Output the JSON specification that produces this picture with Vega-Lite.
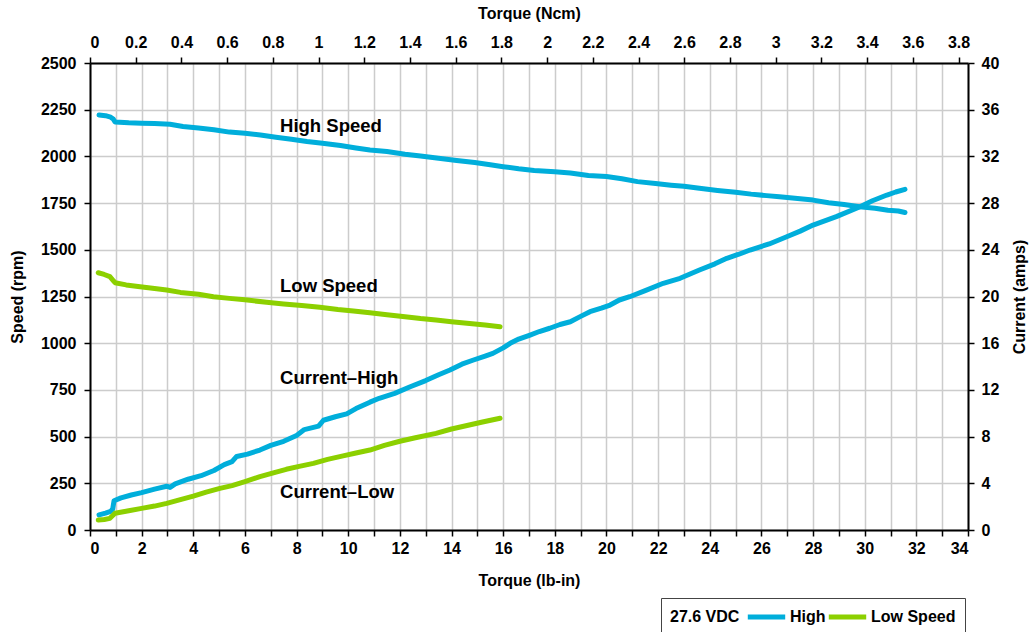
{
  "$schema": "https://vega.github.io/schema/vega-lite/v6.json",
  "width": 878,
  "height": 467,
  "autosize": {"type": "none"},
  "padding": {"left": 90, "top": 63, "right": 61, "bottom": 102},
  "background": "white",
  "config": {
    "font": "Liberation Sans",
    "view": {"stroke": null},
    "axis": {
      "labelFont": "Liberation Sans", "labelFontWeight": "bold", "labelFontSize": 16, "labelColor": "#000",
      "titleFont": "Liberation Sans", "titleFontWeight": "bold", "titleFontSize": 16, "titleColor": "#000",
      "domainColor": "#000", "domainWidth": 2, "tickColor": "#000", "tickWidth": 1.5, "tickSize": 6,
      "gridColor": "#cccccc", "gridWidth": 1.5, "labelPadding": 4
    },
    "legend": {
      "labelFont": "Liberation Sans", "titleFont": "Liberation Sans"
    }
  },
  "datasets": {
    "speed": [
      {"series": "High", "torque": 0.35, "rpm": 2222},
      {"series": "High", "torque": 0.6, "rpm": 2218},
      {"series": "High", "torque": 0.8, "rpm": 2210},
      {"series": "High", "torque": 0.9, "rpm": 2200},
      {"series": "High", "torque": 0.97, "rpm": 2184},
      {"series": "High", "torque": 1.5, "rpm": 2180},
      {"series": "High", "torque": 2.0, "rpm": 2178},
      {"series": "High", "torque": 2.5, "rpm": 2176},
      {"series": "High", "torque": 3.1, "rpm": 2172},
      {"series": "High", "torque": 3.6, "rpm": 2160},
      {"series": "High", "torque": 4.2, "rpm": 2152},
      {"series": "High", "torque": 4.8, "rpm": 2143},
      {"series": "High", "torque": 5.4, "rpm": 2130},
      {"series": "High", "torque": 6.0, "rpm": 2124},
      {"series": "High", "torque": 6.6, "rpm": 2115},
      {"series": "High", "torque": 7.2, "rpm": 2103},
      {"series": "High", "torque": 7.8, "rpm": 2092},
      {"series": "High", "torque": 8.4, "rpm": 2080},
      {"series": "High", "torque": 9.0, "rpm": 2070},
      {"series": "High", "torque": 9.7, "rpm": 2058},
      {"series": "High", "torque": 10.3, "rpm": 2045},
      {"series": "High", "torque": 10.84, "rpm": 2034},
      {"series": "High", "torque": 11.5, "rpm": 2026},
      {"series": "High", "torque": 12.2, "rpm": 2012},
      {"series": "High", "torque": 12.8, "rpm": 2002},
      {"series": "High", "torque": 13.5, "rpm": 1990},
      {"series": "High", "torque": 14.2, "rpm": 1978},
      {"series": "High", "torque": 14.9, "rpm": 1967},
      {"series": "High", "torque": 15.5, "rpm": 1955},
      {"series": "High", "torque": 16.0, "rpm": 1945},
      {"series": "High", "torque": 16.6, "rpm": 1934},
      {"series": "High", "torque": 17.2, "rpm": 1925},
      {"series": "High", "torque": 18.0, "rpm": 1918},
      {"series": "High", "torque": 18.6, "rpm": 1911},
      {"series": "High", "torque": 19.3, "rpm": 1898},
      {"series": "High", "torque": 20.0, "rpm": 1892},
      {"series": "High", "torque": 20.6, "rpm": 1880},
      {"series": "High", "torque": 21.2, "rpm": 1865},
      {"series": "High", "torque": 21.9, "rpm": 1855},
      {"series": "High", "torque": 22.5, "rpm": 1846},
      {"series": "High", "torque": 23.0, "rpm": 1840},
      {"series": "High", "torque": 23.6, "rpm": 1829},
      {"series": "High", "torque": 24.3, "rpm": 1818},
      {"series": "High", "torque": 25.0, "rpm": 1808},
      {"series": "High", "torque": 25.6, "rpm": 1798},
      {"series": "High", "torque": 26.2, "rpm": 1790},
      {"series": "High", "torque": 26.7, "rpm": 1784},
      {"series": "High", "torque": 27.3, "rpm": 1776},
      {"series": "High", "torque": 28.0, "rpm": 1766},
      {"series": "High", "torque": 28.6, "rpm": 1752},
      {"series": "High", "torque": 29.2, "rpm": 1742},
      {"series": "High", "torque": 29.8, "rpm": 1731},
      {"series": "High", "torque": 30.4, "rpm": 1722},
      {"series": "High", "torque": 30.9, "rpm": 1712},
      {"series": "High", "torque": 31.3, "rpm": 1708},
      {"series": "High", "torque": 31.56, "rpm": 1700},
      {"series": "Low Speed", "torque": 0.32, "rpm": 1377},
      {"series": "Low Speed", "torque": 0.55, "rpm": 1368},
      {"series": "Low Speed", "torque": 0.77, "rpm": 1356},
      {"series": "Low Speed", "torque": 0.9, "rpm": 1335},
      {"series": "Low Speed", "torque": 0.97, "rpm": 1324},
      {"series": "Low Speed", "torque": 1.4, "rpm": 1312},
      {"series": "Low Speed", "torque": 1.94, "rpm": 1302},
      {"series": "Low Speed", "torque": 2.5, "rpm": 1293},
      {"series": "Low Speed", "torque": 2.97, "rpm": 1285},
      {"series": "Low Speed", "torque": 3.5, "rpm": 1272},
      {"series": "Low Speed", "torque": 4.2, "rpm": 1262},
      {"series": "Low Speed", "torque": 4.78, "rpm": 1249},
      {"series": "Low Speed", "torque": 5.4, "rpm": 1240},
      {"series": "Low Speed", "torque": 6.0, "rpm": 1232},
      {"series": "Low Speed", "torque": 6.84, "rpm": 1219},
      {"series": "Low Speed", "torque": 7.5, "rpm": 1210},
      {"series": "Low Speed", "torque": 8.2, "rpm": 1202},
      {"series": "Low Speed", "torque": 8.9, "rpm": 1192},
      {"series": "Low Speed", "torque": 9.6, "rpm": 1180},
      {"series": "Low Speed", "torque": 10.2, "rpm": 1172},
      {"series": "Low Speed", "torque": 10.84, "rpm": 1163},
      {"series": "Low Speed", "torque": 11.5, "rpm": 1152},
      {"series": "Low Speed", "torque": 12.2, "rpm": 1142},
      {"series": "Low Speed", "torque": 12.8, "rpm": 1132},
      {"series": "Low Speed", "torque": 13.4, "rpm": 1124},
      {"series": "Low Speed", "torque": 14.0, "rpm": 1115},
      {"series": "Low Speed", "torque": 14.7, "rpm": 1105},
      {"series": "Low Speed", "torque": 15.3, "rpm": 1097},
      {"series": "Low Speed", "torque": 15.88, "rpm": 1088}
    ],
    "current": [
      {"series": "High", "torque": 0.35, "amps": 1.3},
      {"series": "High", "torque": 0.6, "amps": 1.45},
      {"series": "High", "torque": 0.8, "amps": 1.6},
      {"series": "High", "torque": 0.88, "amps": 1.8},
      {"series": "High", "torque": 0.93, "amps": 2.5},
      {"series": "High", "torque": 1.2, "amps": 2.75},
      {"series": "High", "torque": 1.6, "amps": 3.0},
      {"series": "High", "torque": 2.0, "amps": 3.2},
      {"series": "High", "torque": 2.5, "amps": 3.5},
      {"series": "High", "torque": 2.97, "amps": 3.75},
      {"series": "High", "torque": 3.1, "amps": 3.65},
      {"series": "High", "torque": 3.3, "amps": 3.95},
      {"series": "High", "torque": 3.8, "amps": 4.35},
      {"series": "High", "torque": 4.3, "amps": 4.65},
      {"series": "High", "torque": 4.8, "amps": 5.1},
      {"series": "High", "torque": 5.2, "amps": 5.6},
      {"series": "High", "torque": 5.5, "amps": 5.85},
      {"series": "High", "torque": 5.68, "amps": 6.3},
      {"series": "High", "torque": 6.1, "amps": 6.5},
      {"series": "High", "torque": 6.58, "amps": 6.85},
      {"series": "High", "torque": 7.0, "amps": 7.25},
      {"series": "High", "torque": 7.5, "amps": 7.6},
      {"series": "High", "torque": 8.0, "amps": 8.1},
      {"series": "High", "torque": 8.3, "amps": 8.6},
      {"series": "High", "torque": 8.85, "amps": 8.9},
      {"series": "High", "torque": 9.04, "amps": 9.4},
      {"series": "High", "torque": 9.5, "amps": 9.7},
      {"series": "High", "torque": 9.94, "amps": 9.95},
      {"series": "High", "torque": 10.3, "amps": 10.4},
      {"series": "High", "torque": 10.84, "amps": 10.95},
      {"series": "High", "torque": 11.2, "amps": 11.28},
      {"series": "High", "torque": 11.8, "amps": 11.7},
      {"series": "High", "torque": 12.4, "amps": 12.27},
      {"series": "High", "torque": 13.0, "amps": 12.8},
      {"series": "High", "torque": 13.5, "amps": 13.3},
      {"series": "High", "torque": 13.94, "amps": 13.7},
      {"series": "High", "torque": 14.4, "amps": 14.2},
      {"series": "High", "torque": 14.85, "amps": 14.56},
      {"series": "High", "torque": 15.3, "amps": 14.9},
      {"series": "High", "torque": 15.6, "amps": 15.13},
      {"series": "High", "torque": 16.0, "amps": 15.6},
      {"series": "High", "torque": 16.27, "amps": 15.99},
      {"series": "High", "torque": 16.6, "amps": 16.35},
      {"series": "High", "torque": 17.04, "amps": 16.7},
      {"series": "High", "torque": 17.4, "amps": 17.0},
      {"series": "High", "torque": 17.8, "amps": 17.28},
      {"series": "High", "torque": 18.2, "amps": 17.6},
      {"series": "High", "torque": 18.6, "amps": 17.84},
      {"series": "High", "torque": 19.0, "amps": 18.3},
      {"series": "High", "torque": 19.36, "amps": 18.7},
      {"series": "High", "torque": 19.8, "amps": 19.0},
      {"series": "High", "torque": 20.14, "amps": 19.27},
      {"series": "High", "torque": 20.5, "amps": 19.7},
      {"series": "High", "torque": 20.9, "amps": 19.98},
      {"series": "High", "torque": 21.5, "amps": 20.5},
      {"series": "High", "torque": 22.2, "amps": 21.13},
      {"series": "High", "torque": 22.85, "amps": 21.56},
      {"series": "High", "torque": 23.6, "amps": 22.27},
      {"series": "High", "torque": 24.2, "amps": 22.8},
      {"series": "High", "torque": 24.66, "amps": 23.27},
      {"series": "High", "torque": 25.1, "amps": 23.6},
      {"series": "High", "torque": 25.56, "amps": 23.98},
      {"series": "High", "torque": 26.3, "amps": 24.5},
      {"series": "High", "torque": 26.98, "amps": 25.12},
      {"series": "High", "torque": 27.5, "amps": 25.6},
      {"series": "High", "torque": 28.0, "amps": 26.12},
      {"series": "High", "torque": 28.9, "amps": 26.84},
      {"series": "High", "torque": 29.82, "amps": 27.69},
      {"series": "High", "torque": 30.3, "amps": 28.2},
      {"series": "High", "torque": 30.86, "amps": 28.69},
      {"series": "High", "torque": 31.2, "amps": 28.95},
      {"series": "High", "torque": 31.56, "amps": 29.18},
      {"series": "Low Speed", "torque": 0.32, "amps": 0.86},
      {"series": "Low Speed", "torque": 0.55, "amps": 0.9},
      {"series": "Low Speed", "torque": 0.77, "amps": 1.0},
      {"series": "Low Speed", "torque": 0.97, "amps": 1.43},
      {"series": "Low Speed", "torque": 1.5, "amps": 1.65},
      {"series": "Low Speed", "torque": 2.0, "amps": 1.85},
      {"series": "Low Speed", "torque": 2.5, "amps": 2.05},
      {"series": "Low Speed", "torque": 2.97, "amps": 2.28},
      {"series": "Low Speed", "torque": 3.5, "amps": 2.6},
      {"series": "Low Speed", "torque": 4.0, "amps": 2.9},
      {"series": "Low Speed", "torque": 4.5, "amps": 3.25},
      {"series": "Low Speed", "torque": 5.03, "amps": 3.57},
      {"series": "Low Speed", "torque": 5.5, "amps": 3.8},
      {"series": "Low Speed", "torque": 6.0, "amps": 4.15},
      {"series": "Low Speed", "torque": 6.58, "amps": 4.57},
      {"series": "Low Speed", "torque": 7.1, "amps": 4.9},
      {"series": "Low Speed", "torque": 7.6, "amps": 5.2},
      {"series": "Low Speed", "torque": 8.1, "amps": 5.45},
      {"series": "Low Speed", "torque": 8.65, "amps": 5.71},
      {"series": "Low Speed", "torque": 9.2, "amps": 6.05},
      {"series": "Low Speed", "torque": 9.8, "amps": 6.35},
      {"series": "Low Speed", "torque": 10.3, "amps": 6.6},
      {"series": "Low Speed", "torque": 10.84, "amps": 6.85},
      {"series": "Low Speed", "torque": 11.4, "amps": 7.25},
      {"series": "Low Speed", "torque": 12.0, "amps": 7.6},
      {"series": "Low Speed", "torque": 12.6, "amps": 7.9},
      {"series": "Low Speed", "torque": 13.4, "amps": 8.28},
      {"series": "Low Speed", "torque": 14.0, "amps": 8.65},
      {"series": "Low Speed", "torque": 14.6, "amps": 8.95},
      {"series": "Low Speed", "torque": 15.2, "amps": 9.25},
      {"series": "Low Speed", "torque": 15.88, "amps": 9.57}
    ],
    "labels": [
      {"text": "High Speed", "torque": 7.36, "rpm": 2163},
      {"text": "Low Speed", "torque": 7.36, "rpm": 1306},
      {"text": "Current–High", "torque": 7.36, "rpm": 814},
      {"text": "Current–Low", "torque": 7.36, "rpm": 203}
    ]
  },
  "layer": [
    {
      "data": {"name": "speed"},
      "mark": {"type": "line", "strokeWidth": 5, "strokeCap": "round", "strokeJoin": "round"},
      "encoding": {
        "x": {
          "field": "torque", "type": "quantitative",
          "scale": {"domain": [0, 34], "nice": false, "zero": false},
          "axis": {
            "orient": "bottom", "title": "Torque (lb-in)", "grid": true,
            "values": [0,1,2,3,4,5,6,7,8,9,10,11,12,13,14,15,16,17,18,19,20,21,22,23,24,25,26,27,28,29,30,31,32,33,34],
            "labelExpr": "datum.value % 2 === 0 ? datum.label : ''",
            "titlePadding": 16
          }
        },
        "y": {
          "field": "rpm", "type": "quantitative",
          "scale": {"domain": [0, 2500], "nice": false},
          "axis": {
            "orient": "left", "title": "Speed (rpm)", "grid": true, "format": "d",
            "values": [0,250,500,750,1000,1250,1500,1750,2000,2250,2500],
            "labelPadding": 8, "titlePadding": 15
          }
        },
        "color": {
          "field": "series", "type": "nominal",
          "scale": {"domain": ["High", "Low Speed"], "range": ["#00AEDB", "#8CD000"]},
          "legend": {
            "orient": "none", "legendX": 571, "legendY": 535,
            "direction": "horizontal", "title": "27.6 VDC", "titleOrient": "left",
            "strokeColor": "#444", "padding": 9, "clipHeight": 20,
            "symbolType": "stroke", "symbolStrokeWidth": 5, "symbolSize": 1400,
            "labelFontSize": 16, "labelFontWeight": "bold", "labelColor": "#000",
            "titleFontSize": 16, "titleFontWeight": "bold", "titleColor": "#000",
            "labelOffset": 2, "columnPadding": 0, "titlePadding": 5
          }
        },
        "detail": {"field": "series"}
      }
    },
    {
      "data": {"name": "current"},
      "mark": {"type": "line", "strokeWidth": 5, "strokeCap": "round", "strokeJoin": "round"},
      "encoding": {
        "x": {
          "field": "torque", "type": "quantitative",
          "scale": {"domain": [0, 34], "nice": false, "zero": false},
          "axis": null
        },
        "y": {
          "field": "amps", "type": "quantitative",
          "scale": {"domain": [0, 40], "nice": false},
          "axis": {
            "orient": "right", "title": "Current (amps)", "grid": false,
            "titleAngle": 270, "titleX": 51, "titleY": 233.5, "titleAlign": "center", "titleBaseline": "middle",
            "values": [0,4,8,12,16,20,24,28,32,36,40],
            "labelPadding": 7
          }
        },
        "color": {"field": "series", "type": "nominal"}
      }
    },
    {
      "data": {"name": "labels"},
      "mark": {"type": "text", "align": "left", "baseline": "middle", "fontSize": 18.5, "fontWeight": "bold", "font": "Liberation Sans", "color": "#000"},
      "encoding": {
        "x": {"field": "torque", "type": "quantitative", "scale": {"domain": [0, 34], "nice": false, "zero": false}, "axis": null},
        "y": {"field": "rpm", "type": "quantitative", "scale": {"domain": [0, 2500], "nice": false}, "axis": null},
        "text": {"field": "text"}
      }
    },
    {
      "data": {"values": [{}]},
      "mark": {"type": "point", "opacity": 0},
      "encoding": {
        "x": {
          "datum": 0, "type": "quantitative",
          "scale": {"domain": [0, 3.8415], "nice": false, "zero": false},
          "axis": {
            "orient": "top", "title": "Torque (Ncm)", "grid": false,
            "values": [0,0.2,0.4,0.6,0.8,1,1.2,1.4,1.6,1.8,2,2.2,2.4,2.6,2.8,3,3.2,3.4,3.6,3.8],
            "format": "~g", "labelPadding": 7, "titlePadding": 13
          }
        }
      }
    }
  ],
  "resolve": {
    "scale": {"x": "independent", "y": "independent"},
    "axis": {"x": "independent", "y": "independent"}
  }
}
